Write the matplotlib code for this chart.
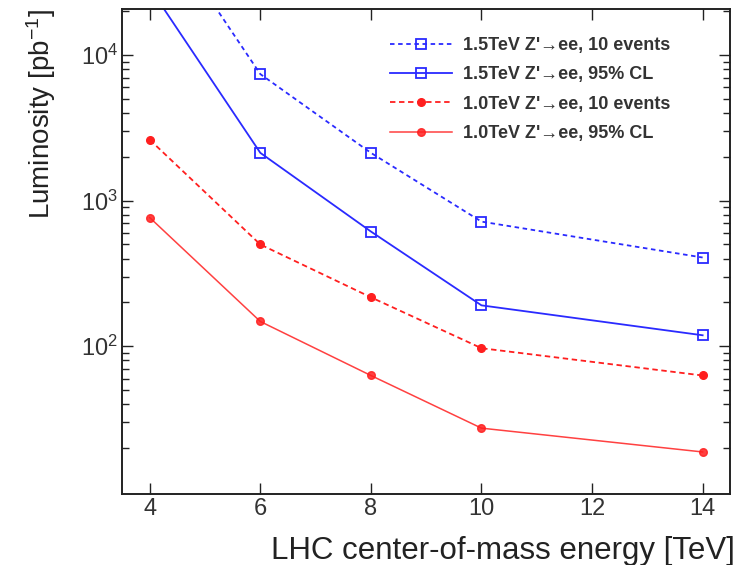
import matplotlib
matplotlib.use("Agg")
import matplotlib.pyplot as plt

plt.rcParams['font.family'] = ['Liberation Sans', 'DejaVu Sans']
plt.rcParams['mathtext.fontset'] = 'custom'
plt.rcParams['mathtext.rm'] = 'Liberation Sans'
plt.rcParams['mathtext.it'] = 'Liberation Sans:italic'

energia = [4, 6, 8, 10, 14]

z15_10ev = [1.0e5, 7400, 2130, 718, 407]
z15_cl95 = [2.9e4, 2130, 614, 191, 119]
z10_10ev = [2620, 500, 217, 97, 63]
z10_cl95 = [765, 148, 63, 27.4, 18.8]

rotulos = ["1.5TeV Z'\u2192ee, 10 events",
           "1.5TeV Z'\u2192ee, 95% CL",
           "1.0TeV Z'\u2192ee, 10 events",
           "1.0TeV Z'\u2192ee, 95% CL"]

fig = plt.figure(figsize=(7.49, 5.65), dpi=100)
ax = fig.add_axes([0.163, 0.126, 0.812, 0.858])

azul = '#2a2aff'
verm = '#ff1f1f'
ax.plot(energia, z15_10ev, linestyle=(0, (2.5, 2)), color=azul, lw=1.3,
        marker='s', mfc='none', mec=azul, ms=7, mew=1.3, label=rotulos[0])
ax.plot(energia, z15_cl95, '-', color=azul, lw=1.3,
        marker='s', mfc='none', mec=azul, ms=7, mew=1.3, label=rotulos[1])
ax.plot(energia, z10_10ev, linestyle=(0, (3, 2)), color=verm, lw=1.3,
        marker='o', ms=5.5, label=rotulos[2])
ax.plot(energia, z10_cl95, '-', color=verm, lw=1.1, alpha=0.85,
        marker='o', ms=5.5, label=rotulos[3])

ax.set_yscale('log')
ax.set_xlim(3.5, 14.5)
ax.set_ylim(9.7, 2.07e4)
ax.set_xticks([4, 6, 8, 10, 12, 14])
ax.set_yticks([1e2, 1e3, 1e4])

ax.tick_params(which='both', direction='in', top=True, right=True,
               colors='#222222', labelcolor='#333333', width=1.0)
ax.tick_params(which='major', length=8, labelsize=17, pad=3)
ax.tick_params(which='minor', length=5)
for s in ax.spines.values():
    s.set_linewidth(1.4)
    s.set_color('#222222')

ax.set_ylabel('Luminosity [pb$^{-1}$]', fontsize=20, color='#222222', loc='top')
ax.yaxis.set_label_coords(-0.105, 1.0)
ax.set_xlabel('LHC center-of-mass energy [TeV]', fontsize=22.5, color='#222222',
              loc='right')
ax.xaxis.set_label_coords(1.008, -0.086)

leg = ax.legend(loc='upper left', bbox_to_anchor=(0.441, 0.942), frameon=False,
                prop={'weight': 'bold', 'size': 13}, handlelength=3.4,
                labelspacing=0.68, handletextpad=0.6, borderpad=0,
                borderaxespad=0)
for t in leg.get_texts():
    t.set_color('#333333')

fig.savefig('out.png', dpi=100)
